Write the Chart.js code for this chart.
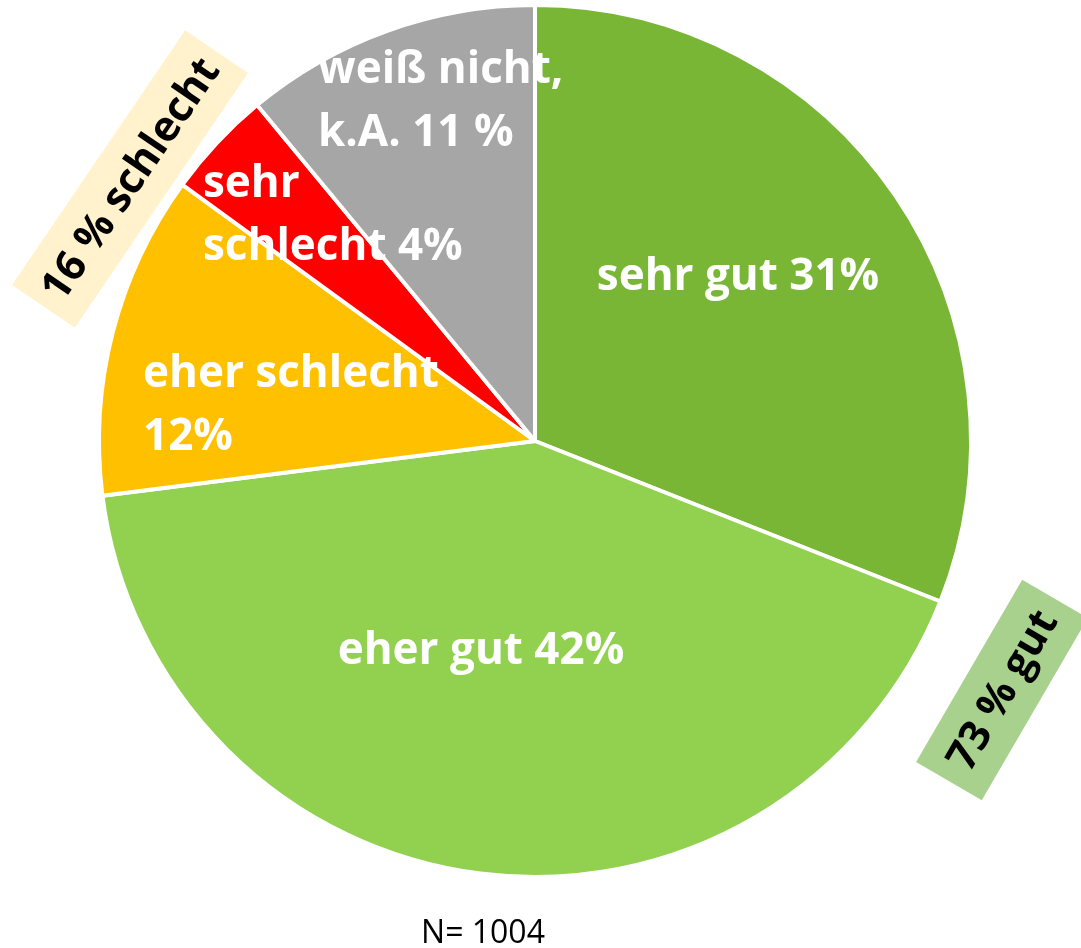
<!DOCTYPE html>
<html>
<head>
<meta charset="utf-8">
<script src="https://cdn.jsdelivr.net/npm/chart.js@4/dist/chart.umd.min.js"></script>
<style>
html,body{margin:0;padding:0;background:#fff;}
#wrap{position:relative;width:1081px;height:948px;}
</style>
</head>
<body>
<div id="wrap"><canvas id="c"></canvas></div>
<script>
// ---- data ----
const categories = ["sehr gut", "eher gut", "eher schlecht", "sehr schlecht", "weiß nicht, k.A."];
const values = [31, 42, 12, 4, 11];
const sliceLabels = [
  ["sehr gut 31%"],
  ["eher gut 42%"],
  ["eher schlecht", "12%"],
  ["sehr", "schlecht 4%"],
  ["weiß nicht,", "k.A. 11 %"]
];
const groupLabels = ["16 % schlecht", "73 % gut"];
const footnote = "N= 1004";

// ---- styles / layout ----
const colors = ["#7AB636", "#92D050", "#FFC000", "#FF0000", "#A6A6A6"];
// label anchors relative to pie centre, in px for radius 435
const labelLayout = [
  {dx: 203, dy: -151, align: "center"},
  {dx: -54, dy: 223, align: "center"},
  {dx: -392, dy: -54, align: "left"},
  {dx: -332, dy: -244, align: "left"},
  {dx: -217, dy: -358, align: "left"}
];
const lineGap = 63;
const groupLayout = [
  {dx: -405, dy: -262, w: 308, h: 76, angle: -55.8, fill: "#FFF2CC"},
  {dx: 467, dy: 249, w: 211, h: 76, angle: -59.8, fill: "#A9D18E"}
];

const labelPlugin = {
  id: "labels",
  afterDatasetsDraw(chart) {
    const ctx = chart.ctx;
    const arc = chart.getDatasetMeta(0).data[0];
    const cx = arc.x, cy = arc.y, s = 1;
    ctx.save();
    ctx.fillStyle = "#fff";
    ctx.font = "bold 44px 'Open Sans'";
    ctx.textBaseline = "alphabetic";
    sliceLabels.forEach((lines, i) => {
      const L = labelLayout[i];
      ctx.textAlign = L.align;
      lines.forEach((t, k) => {
        ctx.fillText(t, cx + L.dx * s, cy + L.dy * s + k * lineGap);
      });
    });
    groupLabels.forEach((t, i) => {
      const G = groupLayout[i];
      ctx.save();
      ctx.translate(cx + G.dx * s, cy + G.dy * s);
      ctx.rotate(G.angle * Math.PI / 180);
      ctx.fillStyle = G.fill;
      ctx.fillRect(-G.w / 2, -G.h / 2, G.w, G.h);
      ctx.fillStyle = "#000";
      ctx.font = "bold 42px 'Open Sans'";
      ctx.textAlign = "center";
      ctx.textBaseline = "middle";
      ctx.fillText(t, 0, 2);
      ctx.restore();
    });
    ctx.fillStyle = "#000";
    ctx.font = "32px 'Open Sans'";
    ctx.textAlign = "center";
    ctx.textBaseline = "alphabetic";
    ctx.fillText(footnote, cx - 52 * s, cy + 502 * s);
    ctx.restore();
  }
};

new Chart(document.getElementById("c"), {
  type: "pie",
  data: {
    labels: categories,
    datasets: [{
      data: values,
      backgroundColor: colors,
      borderColor: "#ffffff",
      borderWidth: 4
    }]
  },
  options: {
    responsive: true,
    maintainAspectRatio: false,
    animation: false,
    layout: {padding: {left: 97, right: 108, top: 3, bottom: 69}},
    plugins: {legend: {display: false}, tooltip: {enabled: false}}
  },
  plugins: [labelPlugin]
});
</script>
</body>
</html>
